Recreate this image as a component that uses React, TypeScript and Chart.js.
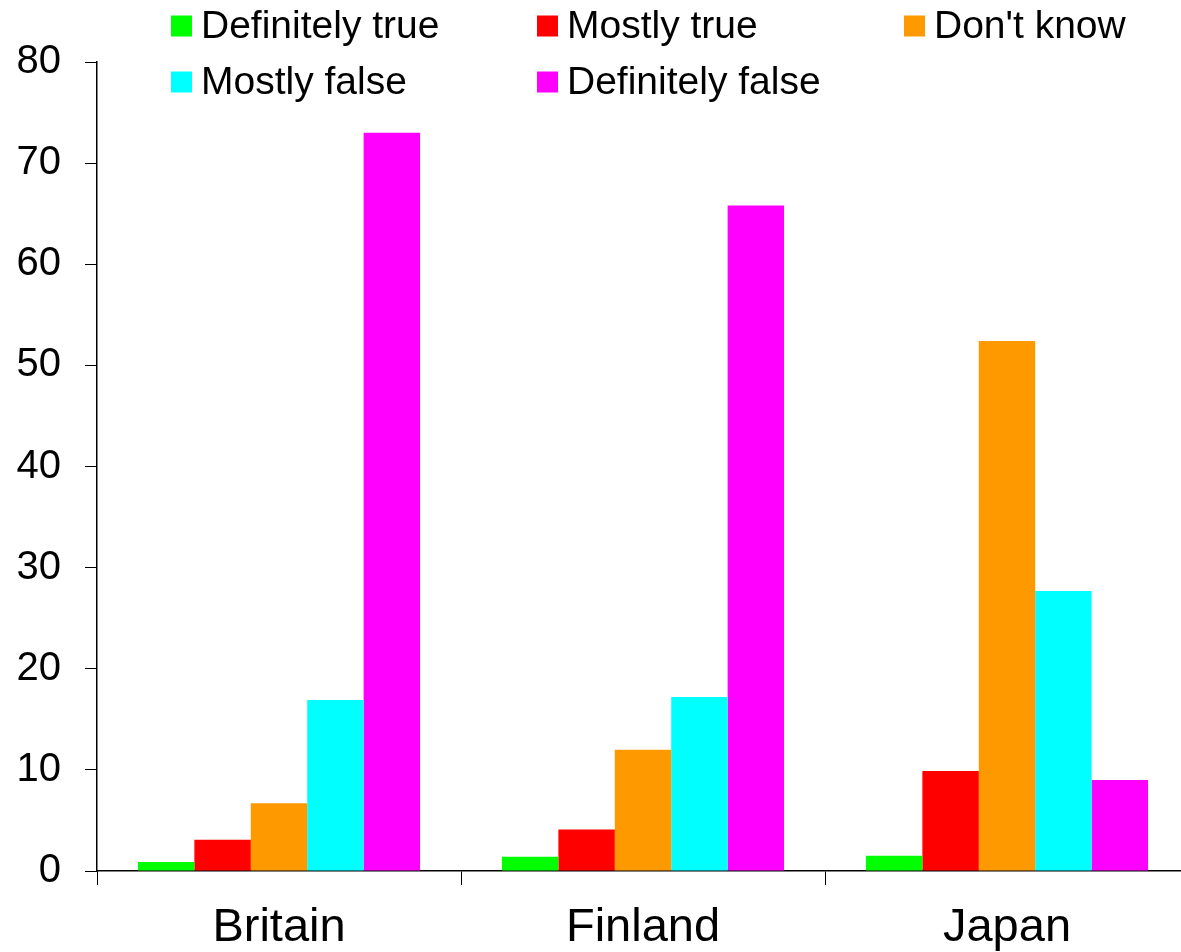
import React, { useEffect, useRef } from "react";
import { Chart, registerables } from "chart.js";

Chart.register(...registerables);

const categories = ["Britain", "Finland", "Japan"];
const seriesNames = ["Definitely true", "Mostly true", "Don't know", "Mostly false", "Definitely false"];
const seriesColors = ["#00FF00", "#FF0000", "#FF9900", "#00FFFF", "#FF00FF"];
const definitelyTrue = [0.9, 1.4, 1.5];
const mostlyTrue = [3.1, 4.1, 9.9];
const dontKnow = [6.7, 12.0, 52.4];
const mostlyFalse = [16.9, 17.2, 27.7];
const definitelyFalse = [73.0, 65.8, 9.0];
const yTicks = [0, 10, 20, 30, 40, 50, 60, 70, 80];

const FONT = '"Liberation Sans", Arial, sans-serif';

// Two-row legend laid out in three fixed columns above the plot.
const gridLegend = {
  id: "gridLegend",
  afterDraw(chart: any) {
    const ctx = chart.ctx as CanvasRenderingContext2D;
    const colX = [171, 537, 904];
    const rowY = [26, 82];
    const box = 21;
    ctx.save();
    ctx.font = `39px ${FONT}`;
    ctx.textBaseline = "middle";
    ctx.textAlign = "left";
    chart.data.datasets.forEach((ds: any, i: number) => {
      const x = colX[i % 3];
      const y = rowY[Math.floor(i / 3)];
      ctx.fillStyle = ds.backgroundColor;
      ctx.fillRect(x, y - box / 2, box, box);
      ctx.fillStyle = "#000";
      ctx.fillText(ds.label, x + 30, y + 1);
    });
    ctx.restore();
  },
};

export default function App() {
  const canvasRef = useRef<HTMLCanvasElement | null>(null);

  useEffect(() => {
    if (!canvasRef.current) return;
    const values = [definitelyTrue, mostlyTrue, dontKnow, mostlyFalse, definitelyFalse];
    const chart = new Chart(canvasRef.current, {
      type: "bar",
      data: {
        labels: categories,
        datasets: seriesNames.map((name, i) => ({
          label: name,
          data: values[i],
          backgroundColor: seriesColors[i],
          borderWidth: 0,
          categoryPercentage: 0.775,
          barPercentage: 1,
        })),
      },
      options: {
        responsive: false,
        animation: false,
        layout: { padding: { top: 62, left: 0, right: 0, bottom: 0 } },
        plugins: {
          legend: { display: false },
          tooltip: { enabled: false },
          title: { display: false },
        },
        scales: {
          x: {
            z: 1,
            offset: true,
            grid: {
              display: true,
              offset: true,
              drawOnChartArea: false,
              drawTicks: true,
              tickLength: 14,
              color: "#000",
              lineWidth: 1,
            },
            border: { display: true, color: "#000", width: 1.5 },
            ticks: {
              color: "#000",
              font: { family: FONT, size: 47 },
              padding: 15,
              maxRotation: 0,
            },
            afterFit(scale: any) {
              scale.height = 81;
            },
          },
          y: {
            min: 0,
            max: 80,
            afterBuildTicks(scale: any) {
              scale.ticks = yTicks.map((v) => ({ value: v }));
            },
            grid: {
              display: true,
              drawOnChartArea: false,
              drawTicks: true,
              tickLength: 12,
              color: "#000",
              lineWidth: 1,
            },
            border: { display: true, color: "#000", width: 1.5 },
            ticks: {
              color: "#000",
              font: { family: FONT, size: 40 },
              padding: 24,
            },
            afterFit(scale: any) {
              scale.width = 97;
            },
          },
        },
      },
      plugins: [gridLegend],
    });
    return () => chart.destroy();
  }, []);

  return (
    <div
      style={{
        position: "fixed",
        left: 0,
        top: 0,
        width: 1181,
        height: 952,
        overflow: "hidden",
        background: "#fff",
      }}
    >
      <canvas ref={canvasRef} width={1189} height={952} style={{ display: "block" }} />
    </div>
  );
}
